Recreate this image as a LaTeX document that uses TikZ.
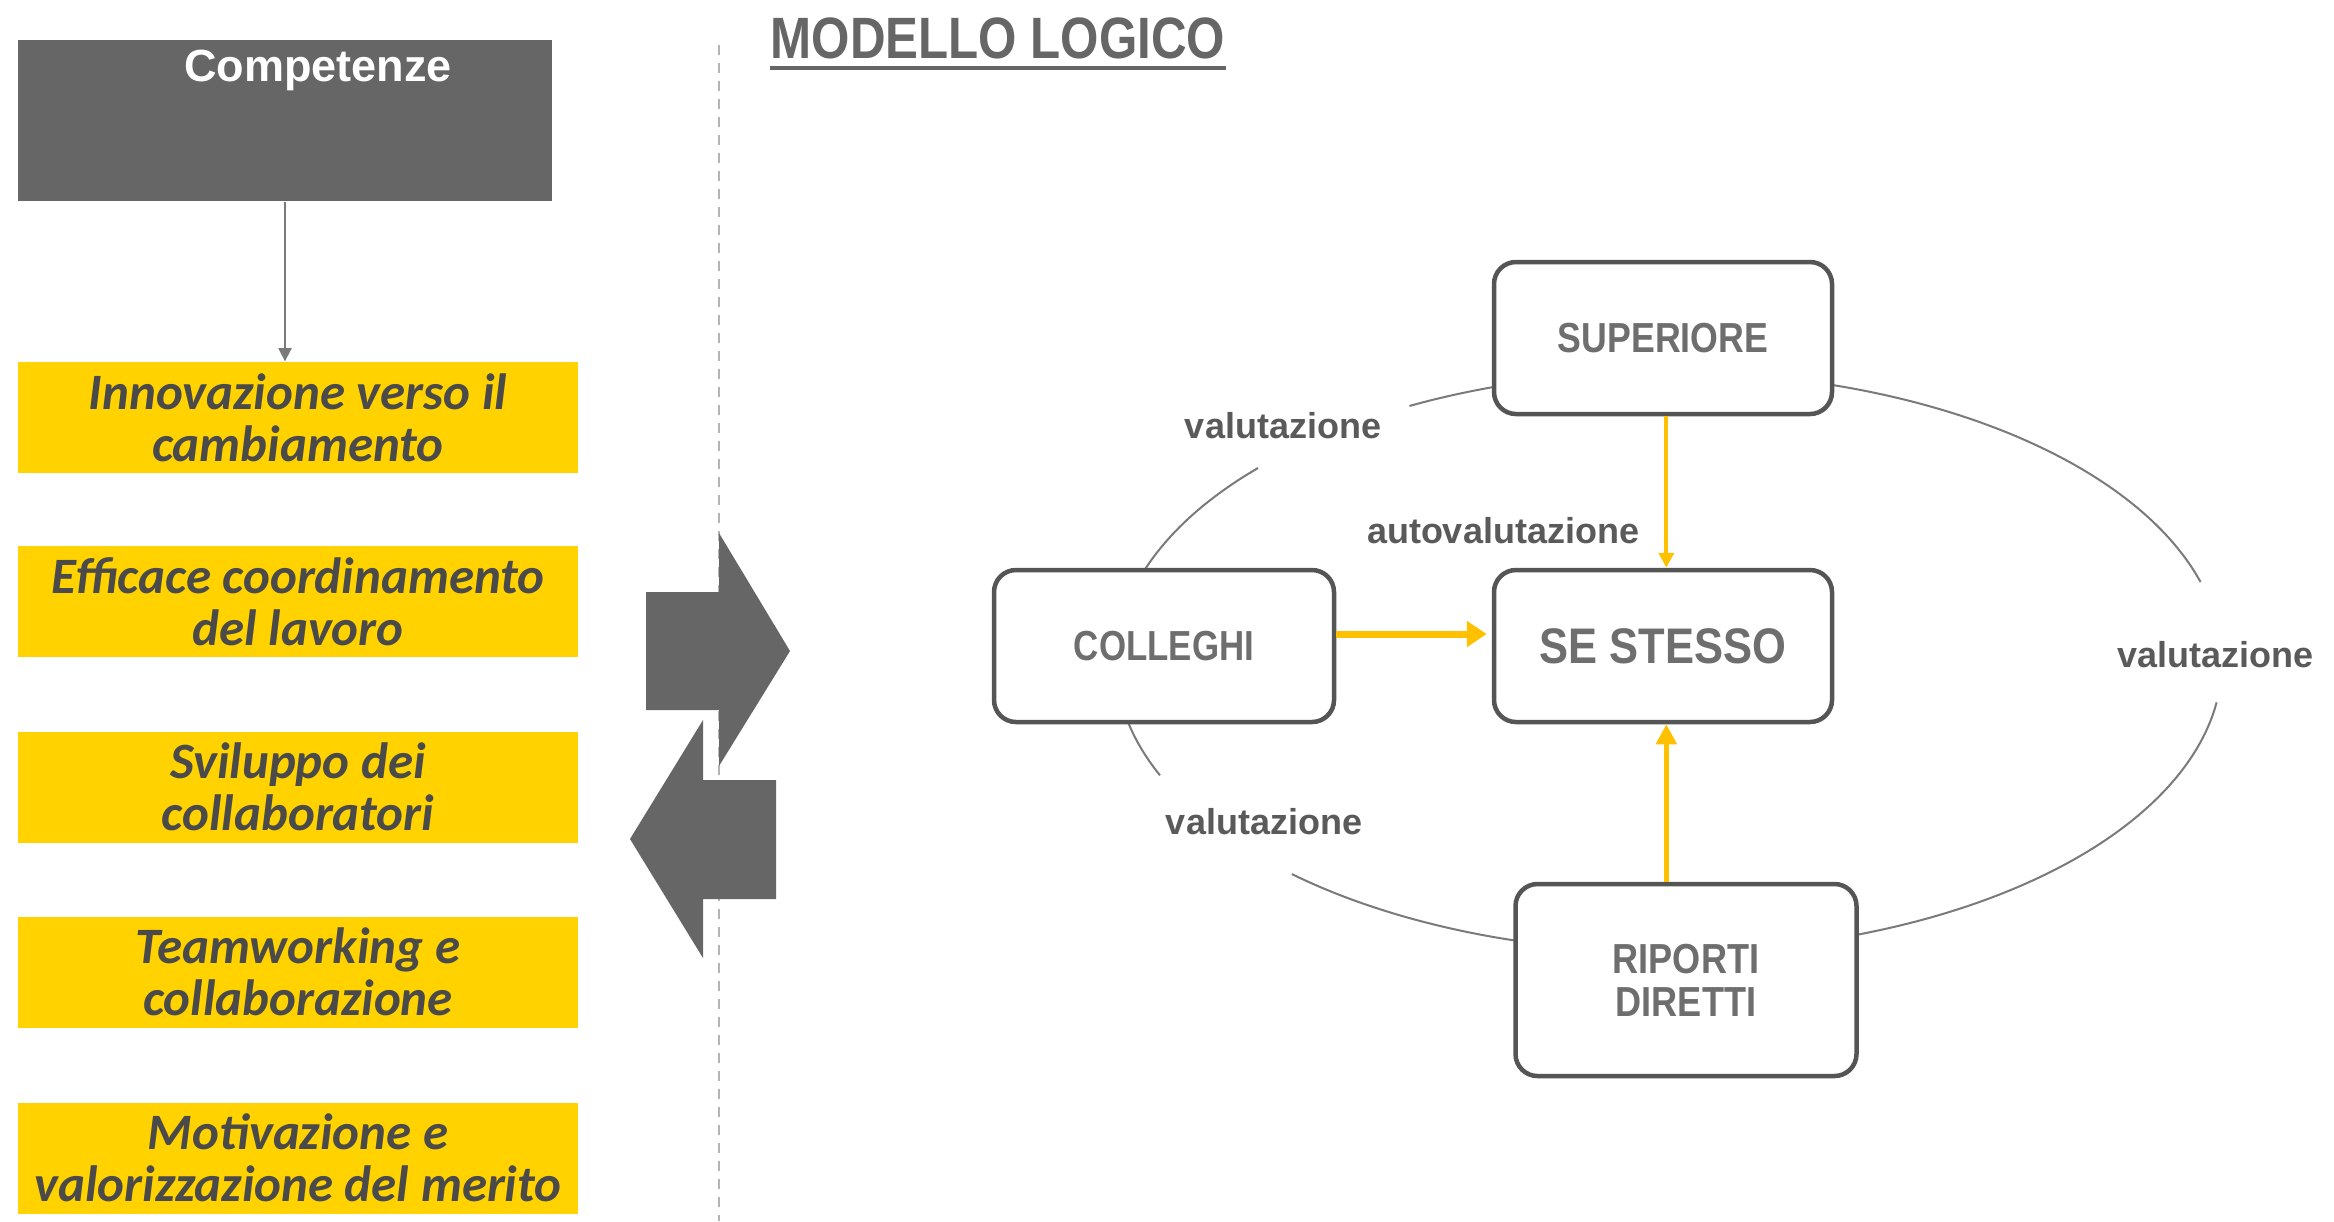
\documentclass[tikz,border=0pt]{standalone}
\usepackage{fontspec}
\usepackage{graphicx}
\setmainfont{Liberation Sans}
\newfontfamily\carl{Carlito}
\usetikzlibrary{arrows.meta}
\definecolor{dgrey}{HTML}{666666}
\definecolor{yfill}{HTML}{FFD200}
\definecolor{yarr}{HTML}{FFC000}
\definecolor{btxt}{HTML}{4A4A4A}
\definecolor{bord}{HTML}{555555}
\definecolor{ltxt}{HTML}{5A5A5A}
\definecolor{boxtxt}{HTML}{6E6E6E}
\definecolor{ellgrey}{HTML}{7A7A7A}
\definecolor{dashgrey}{HTML}{B4B4B4}
\begin{document}
\begin{tikzpicture}[x=0.3pt,y=-0.3pt,
  ybox/.style={fill=yfill, minimum width=168pt, minimum height=33.3pt, inner sep=0pt, align=center,
    font=\carl\bfseries\itshape\fontsize{15.3}{15.6}\selectfont, text=btxt},
  rbox/.style={draw=bord, line width=1.35pt, rounded corners=6.6pt, fill=white, minimum height=45.6pt,
    inner sep=0pt, align=center, text=boxtxt, font=\bfseries\fontsize{12.6}{12.9}\selectfont},
  lab/.style={font=\bfseries\fontsize{10.8}{13}\selectfont, text=ltxt, inner sep=0pt},
  ellline/.style={ellgrey, line width=0.6pt},
  blockarrow/.style={fill=dgrey}
]
\useasboundingbox (0,0) rectangle (2334,1221);

% dashed divider
\coordinate (dtop) at (719,45);
\coordinate (dbot) at (719,1221);
\draw[dashgrey, line width=0.45pt, dash pattern=on 3pt off 2.4pt] (dtop) -- (dbot);

% title
\node[font=\bfseries\fontsize{17.5}{20}\selectfont, text=dgrey, inner sep=0pt] (title) at (998,38) {\scalebox{0.845}[1]{MODELLO LOGICO}};
\coordinate (ul) at (0,68);
\draw[dgrey, line width=1.2pt] (title.west |- ul) -- (title.east |- ul);

% left column
\node[fill=dgrey, minimum width=160.2pt, minimum height=48.3pt, inner sep=0pt] (comp) at (285,120.5) {};
\node[text=white, font=\bfseries\fontsize{13.5}{15}\selectfont, inner sep=0pt] (comptxt) at (318,70) {Competenze};

\node[ybox] (c1) at (298,417.5) {Innovazione verso il\\cambiamento};
\node[ybox] (c2) at (298,601.5) {Efficace coordinamento\\del lavoro};
\node[ybox] (c3) at (298,787) {Sviluppo dei\\collaboratori};
\node[ybox] (c4) at (298,972) {Teamworking e\\collaborazione};
\node[ybox] (c5) at (298,1158) {Motivazione e\\valorizzazione del merito};

\draw[ellgrey, line width=0.45pt, -{Triangle[width=4pt,length=4pt]}] (comp.south) -- (comp.south |- c1.north);

% block arrows
\fill[blockarrow] (646,592) -- (719,592) -- (719,533) -- (790,651) -- (719,766) -- (719,710) -- (646,710) -- cycle;
\fill[blockarrow] (776,780) -- (703,780) -- (703,720) -- (630,839) -- (703,958) -- (703,899) -- (776,899) -- cycle;

% ellipse arcs
\draw[ellline] plot[domain=16:118, samples=80, smooth] ({1669+553*cos(\x)}, {662-290*sin(\x)});
\draw[ellline] plot[domain=138:203, samples=60, smooth] ({1669+553*cos(\x)}, {662-290*sin(\x)});
\draw[ellline] plot[domain=227:352, samples=90, smooth] ({1669+553*cos(\x)}, {662-290*sin(\x)});

% boxes
\node[rbox, minimum width=101.4pt] (sup) at (1663,338) {\scalebox{0.85}[1]{SUPERIORE}};
\node[rbox, minimum width=101.4pt, font=\bfseries\fontsize{15}{16}\selectfont] (self) at (1663,646) {\scalebox{0.87}[1]{SE STESSO}};
\node[rbox, minimum width=102pt] (coll) at (1164,646) {\scalebox{0.83}[1]{COLLEGHI}};
\node[rbox, minimum width=102.3pt, minimum height=57.6pt] (rip) at (1686,980) {\scalebox{0.86}[1]{RIPORTI}\\\scalebox{0.86}[1]{DIRETTI}};

% yellow arrows
\draw[yarr, line width=1.2pt, -{Triangle[width=4.5pt,length=4.5pt]}] ([xshift=1pt]sup.south) -- ([xshift=1pt]self.north);
\draw[yarr, line width=2.1pt, shorten >=1.5pt, -{Triangle[width=7.5pt,length=6pt]}] ([yshift=3.6pt]coll.east) -- ([yshift=3.6pt]self.west);
\draw[yarr, line width=1.5pt, -{Triangle[width=6pt,length=6pt]}] ([xshift=1pt]self.south |- rip.north) -- ([xshift=1pt]self.south);

% labels
\node[lab] (v1) at (1283,426) {valutazione};
\node[lab] (av) at (1503,531) {autovalutazione};
\node[lab] (v2) at (1264,822) {valutazione};
\node[lab] (v3) at (2215,655) {valutazione};
\end{tikzpicture}
\end{document}
